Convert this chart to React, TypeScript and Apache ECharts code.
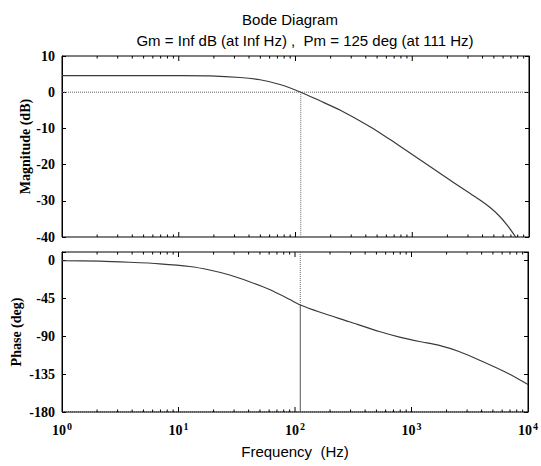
import React, { useEffect, useRef } from "react";
import * as echarts from "echarts";

// Frequencies in Hz and readings from the reference
const magFreq = [1, 3.16, 10, 18.5, 33.5, 49.7, 73.6, 111, 162, 240, 435, 645, 957, 1419, 2323, 3000, 3802, 4700, 5649, 6600, 7690, 10000];
const magDb = [4.6, 4.6, 4.58, 4.5, 4.06, 3.43, 2.13, 0, -2.38, -4.92, -9.53, -13.07, -16.8, -20.5, -25.2, -27.6, -29.8, -32, -34.4, -37, -40, -45.5];

const phaseFreq = [1, 2.1, 3.8, 6.9, 12.5, 18.5, 27.5, 40.7, 60.5, 89.6, 111, 162, 293, 529, 790, 1170, 1730, 2560, 4640, 6900, 10000];
const phaseDeg = [-0.4, -0.9, -2.2, -4, -7.2, -11.4, -17.3, -25.3, -34.6, -46.2, -53, -61.3, -72.8, -84.4, -91, -96.3, -100.8, -108.2, -123.6, -134.9, -147.4];

const majorFreqs = [10, 100, 1000];
const minorFreqs = [2, 3, 4, 5, 6, 7, 8, 9, 20, 30, 40, 50, 60, 70, 80, 90, 200, 300, 400, 500, 600, 700, 800, 900, 2000, 3000, 4000, 5000, 6000, 7000, 8000, 9000];

const crossFreq = 111;
const pmPhase = -53;
const magRange = [-40, 10];
const magTicks = 10;
const phaseRange = [-180, 10];
const phaseTicks = 45;
const freqRange = [1, 10000];

const titleText = "Bode Diagram";
const subTitleText = "Gm = Inf dB (at Inf Hz) ,  Pm = 125 deg (at 111 Hz)";

export default function App() {
  const ref = useRef<HTMLDivElement>(null);
  useEffect(() => {
    if (!ref.current) return;
    const chart = echarts.init(ref.current, null, { renderer: "svg" });
    const axisColor = "#000";
    const serif = "Liberation Serif";
    const tickLabel = { fontFamily: serif, fontWeight: "bold" as const, fontSize: 14, color: "#000" };

    const yBase = (gridIndex: number, pos: "left" | "right", range: number[], interval: number, labels: boolean, name: string, gap: number) => ({
      type: "value" as const,
      gridIndex,
      position: pos,
      min: range[0],
      max: range[1],
      interval,
      name: labels ? name : "",
      nameLocation: "middle" as const,
      nameGap: gap,
      nameMoveOverlap: false,
      nameTextStyle: { fontFamily: serif, fontWeight: "bold" as const, fontSize: 14, color: "#000" },
      axisLine: { show: true, onZero: false, lineStyle: { color: axisColor, width: 1 } },
      axisTick: { show: true, inside: true, length: 4, lineStyle: { color: axisColor } },
      splitLine: { show: false },
      axisLabel: {
        show: labels,
        margin: 7,
        ...tickLabel,
        formatter: (v: number) => (Math.abs(v / interval - Math.round(v / interval)) < 1e-6 ? String(v) : ""),
      },
    });

    // ticks along the top and bottom edges of a plot, placed through the log axis
    const edgeTicks = (xi: number, yi: number, range: number[]) => ({
      type: "custom" as const,
      xAxisIndex: xi,
      yAxisIndex: yi,
      silent: true,
      z: 10,
      data: [
        ...majorFreqs.map((f) => [f, 5]),
        ...minorFreqs.map((f) => [f, 2.5]),
      ],
      renderItem: (_p: any, api: any) => {
        const f = api.value(0);
        const len = api.value(1);
        const b = api.coord([f, range[0]]);
        const t = api.coord([f, range[1]]);
        return {
          type: "group",
          children: [
            { type: "line", shape: { x1: b[0], y1: b[1], x2: b[0], y2: b[1] - len }, style: { stroke: axisColor, lineWidth: 1 } },
            { type: "line", shape: { x1: t[0], y1: t[1], x2: t[0], y2: t[1] + len }, style: { stroke: axisColor, lineWidth: 1 } },
          ],
        };
      },
    });

    const curveStyle = { color: "#3a3a3a", width: 1.2 };
    const dotted = { color: "#666", width: 1, type: "dotted" as const };

    chart.setOption({
      animation: false,
      backgroundColor: "#fff",
      title: [
        { text: titleText, left: 285, top: 7, textAlign: "center", textStyle: { fontFamily: "Liberation Sans", fontWeight: "normal", fontSize: 15, color: "#000" } },
        { text: subTitleText, left: 300, top: 28, textAlign: "center", textStyle: { fontFamily: "Liberation Sans", fontWeight: "normal", fontSize: 15, color: "#000" } },
      ],
      grid: [
        { left: 62, top: 56, right: 12, height: 181, show: true, borderColor: "#000", borderWidth: 1, backgroundColor: "transparent" },
        { left: 62, top: 252, right: 12, height: 160, show: true, borderColor: "#000", borderWidth: 1, backgroundColor: "transparent" },
      ],
      xAxis: [
        {
          type: "log", logBase: 10, gridIndex: 0, min: freqRange[0], max: freqRange[1],
          axisLine: { show: false, onZero: false }, axisTick: { show: false }, axisLabel: { show: false }, splitLine: { show: false },
        },
        {
          type: "log", logBase: 10, gridIndex: 1, position: "bottom", min: freqRange[0], max: freqRange[1],
          axisLine: { show: false, onZero: false }, axisTick: { show: false }, splitLine: { show: false },
          axisLabel: {
            show: true,
            margin: 9,
            formatter: (v: number) => `{b|10}{s|${Math.round(Math.log10(v))}}`,
            rich: {
              b: { fontFamily: serif, fontWeight: "bold", fontSize: 14, color: "#000" },
              s: { fontFamily: serif, fontWeight: "bold", fontSize: 10, color: "#000", padding: [0, 0, 9, 1] },
            },
          },
          name: "Frequency  (Hz)",
          nameLocation: "middle",
          nameGap: 32,
          nameMoveOverlap: false,
          nameTextStyle: { fontFamily: "Liberation Sans", fontSize: 15, color: "#000", verticalAlign: "top" },
        },
      ],
      yAxis: [
        yBase(0, "left", magRange, magTicks, true, "Magnitude (dB)", 30),
        yBase(0, "right", magRange, magTicks, false, "", 0),
        yBase(1, "left", phaseRange, phaseTicks, true, "Phase (deg)", 39),
        yBase(1, "right", phaseRange, phaseTicks, false, "", 0),
      ],
      series: [
        edgeTicks(0, 0, magRange),
        edgeTicks(1, 2, phaseRange),
        {
          type: "line", xAxisIndex: 0, yAxisIndex: 0, showSymbol: false, symbol: "none",
          data: [[freqRange[0], 0], [freqRange[1], 0]], lineStyle: dotted,
        },
        {
          type: "line", xAxisIndex: 0, yAxisIndex: 0, showSymbol: false, symbol: "none",
          data: [[crossFreq, 0], [crossFreq, magRange[0]]], lineStyle: dotted,
        },
        {
          type: "line", xAxisIndex: 0, yAxisIndex: 0, showSymbol: false, symbol: "none", smooth: 0.25,
          data: magFreq.map((f, i) => [f, magDb[i]]), lineStyle: curveStyle,
        },
        {
          type: "line", xAxisIndex: 1, yAxisIndex: 2, showSymbol: false, symbol: "none",
          data: [[freqRange[0], phaseRange[0]], [freqRange[1], phaseRange[0]]], lineStyle: { ...dotted, color: "#222" },
        },
        {
          type: "line", xAxisIndex: 1, yAxisIndex: 2, showSymbol: false, symbol: "none",
          data: [[crossFreq, phaseRange[1]], [crossFreq, pmPhase]], lineStyle: dotted,
        },
        {
          type: "line", xAxisIndex: 1, yAxisIndex: 2, showSymbol: false, symbol: "none",
          data: [[crossFreq, pmPhase], [crossFreq, phaseRange[0]]], lineStyle: { color: "#555", width: 1 },
        },
        {
          type: "line", xAxisIndex: 1, yAxisIndex: 2, showSymbol: false, symbol: "none", smooth: 0.25,
          data: phaseFreq.map((f, i) => [f, phaseDeg[i]]), lineStyle: curveStyle,
        },
      ],
    });
    return () => chart.dispose();
  }, []);
  return <div ref={ref} style={{ position: "fixed", left: 0, top: 0, width: 541, height: 466 }} />;
}
